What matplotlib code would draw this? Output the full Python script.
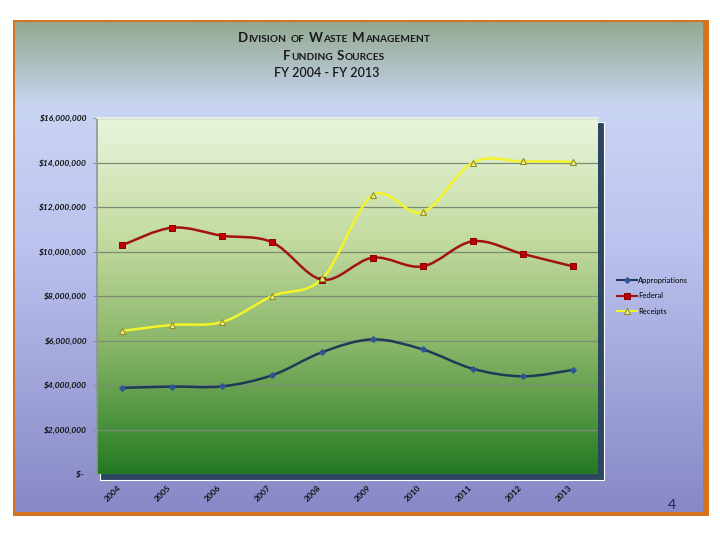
import numpy as np
import matplotlib
matplotlib.use('Agg')
import matplotlib.pyplot as plt
from matplotlib.path import Path
from matplotlib.patches import PathPatch, Rectangle
from matplotlib.colors import LinearSegmentedColormap
from matplotlib.lines import Line2D
from matplotlib.ticker import FuncFormatter

plt.rcParams['font.family'] = ['Lato', 'DejaVu Sans']

# data (dollars)
years = ['2004', '2005', '2006', '2007', '2008', '2009', '2010', '2011', '2012', '2013']
appropriations = [3870000, 3930000, 3940000, 4440000, 5480000, 6050000, 5600000, 4730000, 4390000, 4680000]
federal = [10280000, 11070000, 10710000, 10410000, 8730000, 9720000, 9330000, 10460000, 9890000, 9330000]
receipts = [6430000, 6700000, 6830000, 8000000, 8790000, 12520000, 11770000, 14000000, 14050000, 14030000]

title_lines = ['Division of Waste Management', 'Funding Sources']
subtitle = 'FY 2004 - FY 2013'
y_ticks = [0, 2000000, 4000000, 6000000, 8000000, 10000000, 12000000, 14000000, 16000000]


def smooth_path(xs, ys):
    # Excel style smoothed line: cubic bezier segments through the points
    pts = np.column_stack([xs, ys]).astype(float)
    n = len(pts)
    verts = [pts[0]]
    codes = [Path.MOVETO]
    for i in range(n - 1):
        p0 = pts[max(i - 1, 0)]
        p1 = pts[i]
        p2 = pts[i + 1]
        p3 = pts[min(i + 2, n - 1)]
        verts += [p1 + (p2 - p0) / 6, p2 - (p3 - p1) / 6, p2]
        codes += [Path.CURVE4] * 3
    return Path(verts, codes)


fig = plt.figure(figsize=(7.2, 5.4), dpi=100)
fig.patch.set_facecolor('white')

# slide background, in pixel coords
bg = fig.add_axes([0, 0, 1, 1])
bg.set_xlim(0, 720)
bg.set_ylim(540, 0)
bg.axis('off')
bg.set_zorder(0)

bg.add_patch(Rectangle((13, 20), 696, 496, facecolor='#D5721F', edgecolor='none', zorder=0.5))
slide_cmap = LinearSegmentedColormap.from_list(
    'slide', [(0, '#93A991'), (0.17, '#C9D5F3'), (0.45, '#BCC3EE'), (1, '#8788C6')])
bg.imshow(np.linspace(0, 1, 256).reshape(-1, 1), cmap=slide_cmap, aspect='auto',
          extent=[15, 703, 512, 22], zorder=1)

# dark 3d edge behind the plot area
bg.add_patch(Rectangle((100, 122), 504, 358, facecolor='#2C4560', edgecolor='white', lw=0.8, zorder=2))

# title in small caps, built piece by piece
renderer = fig.canvas.get_renderer()


def small_caps_line(text, y, big, small, cx):
    pieces = []
    for k, word in enumerate(text.split()):
        if k > 0:
            pieces.append(None)
        if word[0].isupper():
            pieces.append((word[0], big))
            if len(word) > 1:
                pieces.append((word[1:].upper(), small))
        else:
            pieces.append((word.upper(), small))
    items = []
    total = 0
    for p in pieces:
        if p is None:
            total += 3.5
            items.append(None)
            continue
        t = bg.text(0, y, p[0], fontsize=p[1], fontweight='bold', color='#1a1a1a',
                    va='baseline', ha='left', zorder=5)
        w = t.get_window_extent(renderer).width
        items.append((t, w))
        total += w + 0.6
    x = cx - total / 2
    for it in items:
        if it is None:
            x += 3.5
            continue
        it[0].set_x(x)
        x += it[1] + 0.6


small_caps_line(title_lines[0], 42, 9.5, 7.3, 334)
small_caps_line(title_lines[1], 60, 9.5, 7.3, 334)
bg.text(327, 77, subtitle, fontsize=9, fontweight='semibold', color='#1a1a1a',
        ha='center', va='baseline', zorder=5)

bg.text(672, 509, '4', fontsize=10, color='#23235a', ha='center', va='baseline', zorder=5)

# plot area
ax = fig.add_axes([97 / 720, 1 - 474 / 540, 501 / 720, 356 / 540])
ax.set_zorder(1)
ax.patch.set_visible(False)
plot_cmap = LinearSegmentedColormap.from_list(
    'plotarea', [(0, '#EAF5DD'), (0.35, '#C2DA9E'), (0.65, '#86B466'), (1, '#237A22')])
ax.imshow(np.linspace(0, 1, 256).reshape(-1, 1), cmap=plot_cmap, aspect='auto',
          extent=[0, 1, 0, 1], transform=ax.transAxes, zorder=0)

x = np.arange(len(years))
series = [
    ('Appropriations', appropriations, '#1E3A56', dict(marker='D', ms=2.8, mfc='#2F5597', mec='#2F5597')),
    ('Federal', federal, '#A31212', dict(marker='s', ms=4.4, mfc='#C00000', mec='#8B0000', mew=0.7)),
    ('Receipts', receipts, '#F4F42A', dict(marker='^', ms=4.6, mfc='#EEF08A', mec='#8F8F2A', mew=0.8)),
]
handles = []
for name, vals, col, mk in series:
    ax.add_patch(PathPatch(smooth_path(x, vals), facecolor='none', edgecolor=col, lw=1.8, zorder=3))
    ax.plot(x, vals, linestyle='none', zorder=4, **mk)
    handles.append(Line2D([], [], color=col, lw=1.5, **mk))

ax.set_xlim(-0.5, len(years) - 0.5)
ax.set_ylim(0, 16000000)
ax.set_yticks(y_ticks)
ax.yaxis.set_major_formatter(FuncFormatter(lambda v, p: '$-  ' if v == 0 else f'${v:,.0f}'))
ax.set_xticks(x)
ax.set_xticklabels(years, rotation=45, ha='right', va='top', fontsize=6, fontweight='bold', color='#111111')
for lab in ax.get_yticklabels():
    lab.set_fontsize(6)
    lab.set_fontstyle('italic')
    lab.set_fontweight('bold')
    lab.set_color('#111111')
ax.tick_params(axis='y', length=3, color='#8a8f96', pad=4)
ax.tick_params(axis='x', length=0, pad=7)

ax.set_axisbelow(True)
ax.yaxis.grid(True, color='#7D8C76', lw=0.9)
ax.spines['right'].set_visible(False)
ax.spines['bottom'].set_visible(False)
ax.spines['left'].set_color('#8E969A')
ax.spines['left'].set_linewidth(1.2)
ax.spines['top'].set_color('#F4F8EE')
ax.spines['top'].set_linewidth(1.2)

fig.legend(handles, [s[0] for s in series], loc='upper left',
           bbox_to_anchor=(617 / 720, 1 - 277 / 540), frameon=False, fontsize=5.5,
           handlelength=2.6, handletextpad=0.2, labelspacing=1.1, borderaxespad=0, borderpad=0)

fig.savefig('out.png', dpi=100)
